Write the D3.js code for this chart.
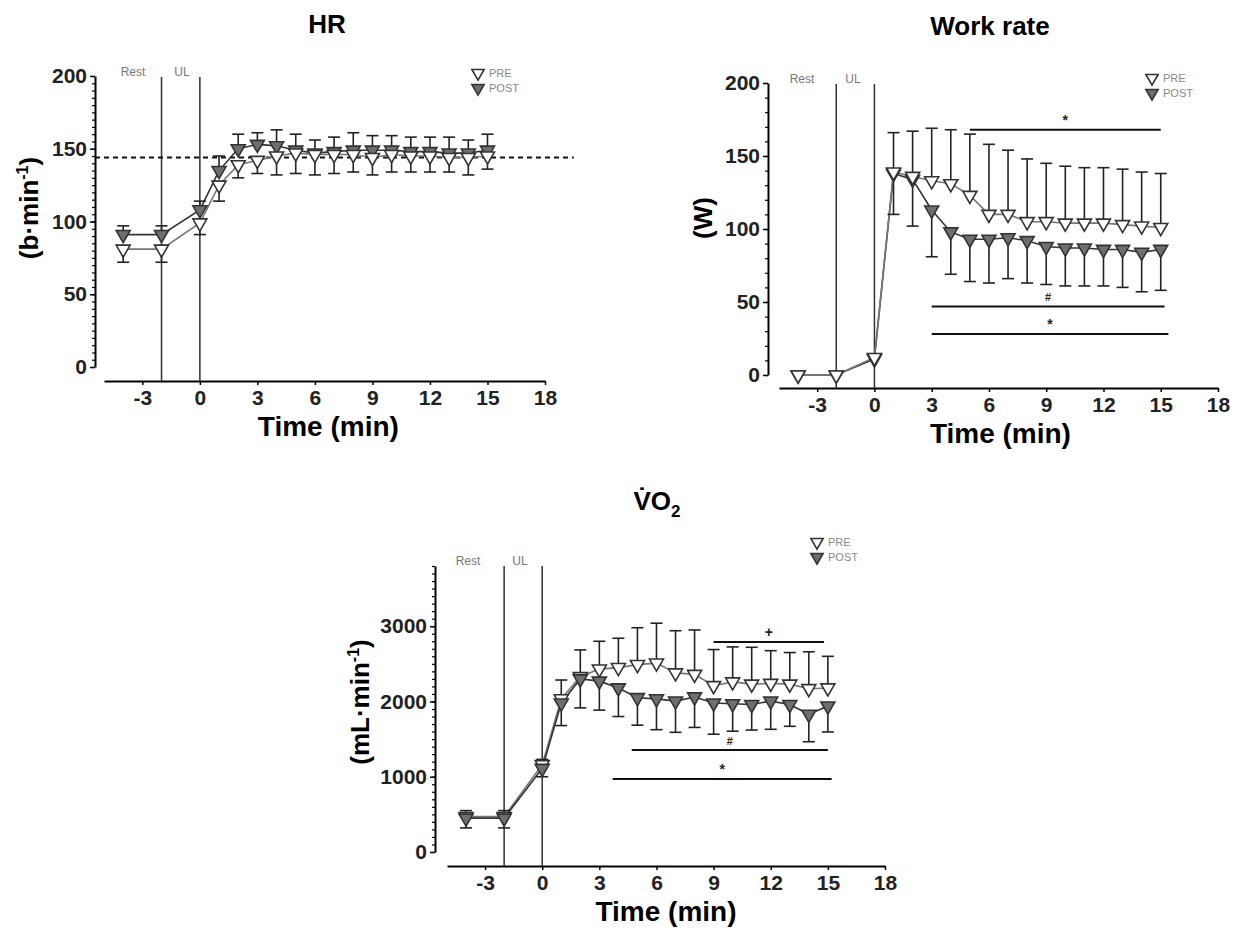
<!DOCTYPE html>
<html>
<head>
<meta charset="utf-8">
<script src="https://cdn.jsdelivr.net/npm/d3@7"></script>
<style>
  body { margin: 0; background: #fff; }
  svg text { font-family: "Liberation Sans", Arial, sans-serif; }
</style>
</head>
<body>
<svg id="chart" width="1245" height="928"></svg>
<script>
// time points (min); -4 and -2 are rest, 0 is end of unloaded
var times = [-4, -2, 0, 1, 2, 3, 4, 5, 6, 7, 8, 9, 10, 11, 12, 13, 14, 15];
var xTicks = [-3, 0, 3, 6, 9, 12, 15, 18];

// HR (b/min)
var hrPre    = [81, 81, 99, 125, 139, 142, 145, 147, 146, 146, 146, 144, 146, 145, 145, 144, 144, 145];
var hrPreSd  = [9, 9, 8, 11, 9, 9, 13, 14, 14, 13, 12, 12, 12, 11, 11, 10, 12, 9];
var hrPost   = [91, 91, 108, 135, 150, 153, 152, 149, 147, 148, 149, 149, 149, 148, 148, 147, 147, 149];
var hrPostSd = [6, 6, 6, 10, 10, 8, 11, 11, 9, 10, 12, 10, 10, 10, 10, 11, 9, 11];
var hrTicks = [0, 50, 100, 150, 200];
var hrRef = 144;

// Work rate (W)
var wrPre    = [0, 0, 12, 139, 136, 133, 131, 123, 110, 110, 105, 105, 104, 104, 104, 103, 102, 101];
var wrPreSd  = [0, 0, 2, 27, 31, 36, 37, 42, 48, 44, 43, 40, 39, 38, 38, 38, 37, 37];
var wrPost   = [0, 0, 11, 138, 134, 113, 98, 93, 93, 94, 92, 88, 87, 87, 86, 86, 84, 86];
var wrPostSd = [0, 0, 0, 28, 32, 32, 29, 29, 30, 28, 29, 26, 26, 26, 25, 26, 27, 28];
var wrTicks = [0, 50, 100, 150, 200];
var wrSig = [
  {x0: 5, x1: 15, y: 168, sym: "*"},
  {x0: 3, x1: 15.2, y: 47, sym: "#"},
  {x0: 3, x1: 15.4, y: 28, sym: "*"}
];

// VO2 (mL/min)
var vo2Pre    = [470, 470, 1160, 2035, 2330, 2430, 2450, 2490, 2510, 2380, 2360, 2210, 2260, 2230, 2240, 2230, 2170, 2180];
var vo2PreSd  = [80, 80, 70, 250, 355, 370, 390, 490, 530, 560, 590, 480, 465, 490, 435, 420, 490, 420];
var vo2Post   = [450, 450, 1110, 1980, 2300, 2270, 2180, 2050, 2035, 2005, 2060, 1980, 1970, 1960, 2005, 1960, 1830, 1940];
var vo2PostSd = [130, 130, 110, 300, 385, 385, 380, 365, 410, 415, 405, 415, 365, 340, 375, 290, 365, 345];
var vo2Ticks = [0, 1000, 2000, 3000];
var vo2Sig = [
  {x0: 9, x1: 14.8, y: 2790, sym: "+"},
  {x0: 4.7, x1: 15, y: 1355, sym: "#"},
  {x0: 3.7, x1: 15.2, y: 970, sym: "*"}
];

var svg = d3.select("#chart");
var tri = d3.symbol().type(d3.symbolTriangle).size(85)();

function series(vals, sds) {
  return times.map(function(t, i) { return {t: t, v: vals[i], sd: sds[i]}; });
}

function drawPanel(cfg) {
  var g = svg.append("g");
  var x = d3.scaleLinear().domain([-5, 18]).range(cfg.xRange);
  var y = d3.scaleLinear().domain([0, cfg.yMax]).range(cfg.yRange);

  // title
  var title = g.append("text")
    .attr("x", cfg.titlePos[0]).attr("y", cfg.titlePos[1])
    .attr("text-anchor", "middle")
    .style("font-size", "26px").style("font-weight", "bold");
  if (cfg.titleSub) {
    title.append("tspan").text(cfg.title);
    title.append("tspan").attr("dy", 7).style("font-size", "17px").text(cfg.titleSub);
  } else {
    title.text(cfg.title);
  }

  // y axis with minor ticks
  g.append("g")
    .attr("transform", "translate(" + cfg.yAxisX + ",0)")
    .call(d3.axisLeft(y).tickValues(d3.range(0, cfg.yMax + 0.001, cfg.minor)).tickSize(3).tickFormat("").tickSizeOuter(0))
    .call(function(a) { a.select(".domain").remove(); a.selectAll("line").attr("stroke-width", 1.2); });
  var ya = g.append("g")
    .attr("transform", "translate(" + cfg.yAxisX + ",0)")
    .call(d3.axisLeft(y).tickValues(cfg.yTicks).tickSize(5).tickPadding(3).tickSizeOuter(0)
      .tickFormat(function(d) { return String(d); }));
  ya.select(".domain").attr("stroke-width", 2);
  ya.selectAll("line").attr("stroke-width", 1.5);
  ya.selectAll("text").style("font-size", "21px").style("font-weight", "bold").attr("fill", "#222");

  // x axis
  var xa = g.append("g")
    .attr("transform", "translate(0," + cfg.xAxisY + ")")
    .call(d3.axisBottom(x).tickValues(xTicks).tickSize(4).tickPadding(5).tickSizeOuter(0)
      .tickFormat(function(d) { return String(d); }));
  xa.select(".domain").attr("stroke-width", 2);
  xa.selectAll("line").attr("stroke-width", 1.5);
  xa.selectAll("text").style("font-size", "21px").style("font-weight", "bold").attr("fill", "#222");

  // axis labels
  g.append("text")
    .attr("x", x(cfg.xLabelAt)).attr("y", cfg.xAxisY + 55)
    .attr("text-anchor", "middle")
    .style("font-size", "28px").style("font-weight", "bold")
    .text("Time (min)");
  var yl = g.append("text")
    .attr("transform", "translate(" + cfg.yLabelPos[0] + "," + cfg.yLabelPos[1] + ") rotate(-90)")
    .attr("text-anchor", "middle")
    .style("font-size", "26px").style("font-weight", "bold");
  yl.append("tspan").text(cfg.yLabel[0]);
  if (cfg.yLabel.length > 1) {
    yl.append("tspan").attr("dy", -10).style("font-size", "16px").text(cfg.yLabel[1]);
    yl.append("tspan").attr("dy", 10).text(cfg.yLabel[2]);
  }

  // phase lines and labels
  [-2, 0].forEach(function(t) {
    g.append("line")
      .attr("x1", x(t)).attr("x2", x(t))
      .attr("y1", cfg.phaseTop).attr("y2", cfg.xAxisY)
      .attr("stroke", "#333").attr("stroke-width", 1.5);
  });
  g.append("text").attr("x", cfg.restX).attr("y", cfg.phaseTop - 1)
    .attr("text-anchor", "middle").style("font-size", "12px").attr("fill", "#777").text("Rest");
  g.append("text").attr("x", cfg.ulX).attr("y", cfg.phaseTop - 1)
    .attr("text-anchor", "middle").style("font-size", "12px").attr("fill", "#777").text("UL");

  // reference line
  if (cfg.ref !== undefined) {
    g.append("line")
      .attr("x1", cfg.yAxisX).attr("x2", x(19.5))
      .attr("y1", y(cfg.ref)).attr("y2", y(cfg.ref))
      .attr("stroke", "#111").attr("stroke-width", 1.8).attr("stroke-dasharray", "5,4");
  }

  // significance bars
  (cfg.sig || []).forEach(function(s) {
    g.append("line")
      .attr("x1", x(s.x0)).attr("x2", x(s.x1))
      .attr("y1", y(s.y)).attr("y2", y(s.y))
      .attr("stroke", "#111").attr("stroke-width", 2);
    g.append("text")
      .attr("x", x((s.x0 + s.x1) / 2)).attr("y", y(s.y) - 5)
      .attr("text-anchor", "middle")
      .style("font-size", s.sym === "#" ? "11px" : "14px").style("font-weight", "bold")
      .attr("fill", "#222").text(s.sym);
  });

  var line = d3.line().x(function(d) { return x(d.t); }).y(function(d) { return y(d.v); });
  var sets = cfg.sets;

  // connecting lines
  sets.forEach(function(s) {
    g.append("path").datum(s.data)
      .attr("d", line).attr("fill", "none")
      .attr("stroke", s.lineColor).attr("stroke-width", 1.6);
  });

  // error bars
  sets.forEach(function(s) {
    var eb = g.append("g");
    s.data.forEach(function(d) {
      if (!d.sd) return;
      var yEnd = y(d.v + s.dir * d.sd);
      eb.append("line")
        .attr("x1", x(d.t)).attr("x2", x(d.t))
        .attr("y1", y(d.v)).attr("y2", yEnd)
        .attr("stroke", "#222").attr("stroke-width", 1.6);
      eb.append("line")
        .attr("x1", x(d.t) - 6).attr("x2", x(d.t) + 6)
        .attr("y1", yEnd).attr("y2", yEnd)
        .attr("stroke", "#222").attr("stroke-width", 1.6);
    });
  });

  // markers
  sets.forEach(function(s) {
    g.append("g").selectAll("path").data(s.data).enter().append("path")
      .attr("d", tri)
      .attr("transform", function(d) { return "translate(" + x(d.t) + "," + y(d.v) + ") rotate(180)"; })
      .attr("fill", s.fill).attr("stroke", "#333").attr("stroke-width", 1.6);
  });

  // legend
  var lg = g.append("g").attr("transform", "translate(" + cfg.legendPos[0] + "," + cfg.legendPos[1] + ")");
  [{name: "PRE", fill: "#fff"}, {name: "POST", fill: "#6f6f6f"}].forEach(function(l, i) {
    lg.append("path").attr("d", d3.symbol().type(d3.symbolTriangle).size(65)())
      .attr("transform", "translate(0," + (i * 15) + ") rotate(180)")
      .attr("fill", l.fill).attr("stroke", "#333").attr("stroke-width", 1.6);
    lg.append("text").attr("x", 11).attr("y", i * 15 + 4)
      .style("font-size", "11px").attr("fill", "#888").text(l.name);
  });
}

var preStyle = {fill: "#fff", lineColor: "#777"};
var postStyle = {fill: "#6f6f6f", lineColor: "#333"};

drawPanel({
  title: "HR", titlePos: [327, 33],
  xRange: [104, 545], yRange: [367, 76], yMax: 200, yTicks: hrTicks, minor: 5,
  yAxisX: 95, xAxisY: 381, phaseTop: 77, restX: 133, ulX: 182,
  xLabelAt: 6.7, yLabelPos: [38, 208], yLabel: ["(b\u00b7min", "-1", ")"],
  legendPos: [478, 73], ref: hrRef,
  sets: [
    Object.assign({data: series(hrPost, hrPostSd), dir: 1}, postStyle),
    Object.assign({data: series(hrPre, hrPreSd), dir: -1}, preStyle)
  ]
});

drawPanel({
  title: "Work rate", titlePos: [990, 35],
  xRange: [779, 1218], yRange: [375, 83], yMax: 200, yTicks: wrTicks, minor: 10,
  yAxisX: 768, xAxisY: 388, phaseTop: 84, restX: 802, ulX: 853,
  xLabelAt: 6.6, yLabelPos: [712, 218], yLabel: ["(W)"],
  legendPos: [1152, 78], sig: wrSig,
  sets: [
    Object.assign({data: series(wrPost, wrPostSd), dir: -1}, postStyle),
    Object.assign({data: series(wrPre, wrPreSd), dir: 1}, preStyle)
  ]
});

drawPanel({
  title: "V\u0307O", titleSub: "2", titlePos: [657, 510],
  xRange: [447, 885], yRange: [852, 566], yMax: 3800, yTicks: vo2Ticks, minor: 100,
  yAxisX: 435, xAxisY: 866, phaseTop: 566, restX: 468, ulX: 520,
  xLabelAt: 6.5, yLabelPos: [369, 702], yLabel: ["(mL\u00b7min", "-1", ")"],
  legendPos: [817, 542], sig: vo2Sig,
  sets: [
    Object.assign({data: series(vo2Pre, vo2PreSd), dir: 1}, preStyle),
    Object.assign({data: series(vo2Post, vo2PostSd), dir: -1}, postStyle)
  ]
});
</script>
</body>
</html>
